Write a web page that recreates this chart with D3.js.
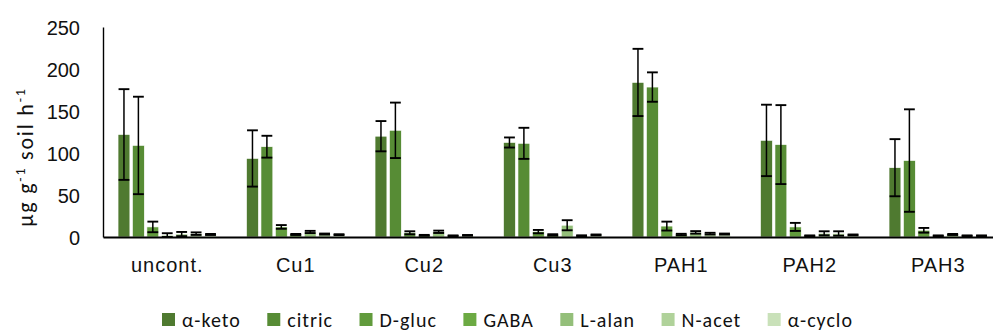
<!DOCTYPE html>
<html>
<head>
<meta charset="utf-8">
<script src="https://cdn.jsdelivr.net/npm/d3@7"></script>
<style>
  body { margin: 0; background: #fff; }
  svg { display: block; font-family: Calibri, Carlito, Lato, sans-serif; }
  .tick-label { fill: #111; font-size: 20px; }
  .cat-label { fill: #111; font-size: 20px; letter-spacing: 1px; }
  .legend-label { fill: #111; font-size: 20px; letter-spacing: 1px; }
  .y-title { fill: #111; font-size: 22px; letter-spacing: 1.8px; }
</style>
</head>
<body>
<div id="chart"></div>
<script>
var svgWidth = 993;
var svgHeight = 332;

// plot box (right side runs off the frame like in the reference)
var margin = { top: 27, left: 103, bottom: 95 };
var plotRight = 1002.5;
var baseY = svgHeight - margin.bottom;

var categories = ["uncont.", "Cu1", "Cu2", "Cu3", "PAH1", "PAH2", "PAH3"];
var series = ["α-keto", "citric", "D-gluc", "GABA", "L-alan", "N-acet", "α-cyclo"];
var colors = ["#4f7a30", "#578c35", "#619b3c", "#6caa43", "#94bf7a", "#b0d29a", "#c9e1b9"];
var yTicks = [0, 50, 100, 150, 200, 250];

// means, one array per category, in series order
var uncontVals = [122, 109, 12, 2, 3.5, 4, 3];
var cu1Vals    = [93.5, 107.5, 12, 3, 6, 3.5, 2.8];
var cu2Vals    = [120, 127, 5, 2, 6.2, 1.5, 2];
var cu3Vals    = [112.5, 111.5, 6.4, 2.5, 14, 1.5, 2.5];
var pah1Vals   = [184, 178.5, 13, 3, 5.5, 4, 3.5];
var pah2Vals   = [115, 110, 12, 1.5, 4.4, 4.2, 2.5];
var pah3Vals   = [82.5, 91, 8, 1.5, 3, 1.5, 1.5];

// error (+/-)
var uncontErr = [54, 58, 6.3, 2.5, 2.5, 1.5, 0.6];
var cu1Err    = [33.5, 13, 2.2, 0.6, 1.3, 0.6, 0.5];
var cu2Err    = [18, 33, 1.8, 0.5, 1.4, 0.4, 0.4];
var cu3Err    = [6, 18.5, 2, 0.8, 6, 0.5, 0.5];
var pah1Err   = [40, 17.5, 5.3, 0.8, 1.5, 1, 0.6];
var pah2Err   = [42.5, 47, 4.8, 0.4, 2.4, 2.6, 0.5];
var pah3Err   = [34, 61, 2.8, 0.4, 0.6, 0.4, 0.4];

var allVals = [uncontVals, cu1Vals, cu2Vals, cu3Vals, pah1Vals, pah2Vals, pah3Vals];
var allErr = [uncontErr, cu1Err, cu2Err, cu3Err, pah1Err, pah2Err, pah3Err];

var data = [];
categories.forEach((c, i) => {
  series.forEach((s, j) => {
    data.push({ cat: c, ser: s, idx: j, value: allVals[i][j], err: allErr[i][j] });
  });
});

var svg = d3.select("#chart")
  .append("svg")
  .attr("width", svgWidth)
  .attr("height", svgHeight);

var x0 = d3.scaleBand()
  .domain(categories)
  .range([margin.left, plotRight])
  .paddingInner(0.214)
  .paddingOuter(0.107);

var x1 = d3.scaleBand()
  .domain(series)
  .range([0, x0.bandwidth()])
  .paddingInner(0.18)
  .paddingOuter(0.09);

var y = d3.scaleLinear()
  .domain([0, 250])
  .range([baseY, margin.top]);

var color = d3.scaleOrdinal().domain(series).range(colors);

// bars
svg.append("g")
  .selectAll("rect")
  .data(data)
  .enter()
  .append("rect")
  .attr("x", d => x0(d.cat) + x1(d.ser))
  .attr("y", d => y(d.value))
  .attr("width", x1.bandwidth())
  .attr("height", d => baseY - y(d.value))
  .attr("fill", d => color(d.ser))
  .attr("stroke", "#fff")
  .attr("stroke-width", 0.6);

// error bars
var errG = svg.append("g")
  .attr("stroke", "#000")
  .attr("stroke-width", 1.9);

data.forEach(d => {
  var cx = x0(d.cat) + x1(d.ser) + x1.bandwidth() / 2;
  var hw = x1.bandwidth() / 2 - 0.5;
  var lo = Math.max(0, d.value - d.err);
  var hi = d.value + d.err;
  errG.append("line")
    .attr("x1", cx).attr("x2", cx)
    .attr("y1", y(hi)).attr("y2", y(lo))
    .attr("stroke-width", 1.5);
  errG.append("line")
    .attr("x1", cx - hw).attr("x2", cx + hw)
    .attr("y1", y(hi)).attr("y2", y(hi));
  errG.append("line")
    .attr("x1", cx - hw).attr("x2", cx + hw)
    .attr("y1", y(lo)).attr("y2", y(lo));
});

// y axis
var yAxis = d3.axisLeft(y).tickValues(yTicks).tickSize(0).tickPadding(23);
var yG = svg.append("g")
  .attr("transform", `translate(${margin.left}, 0)`)
  .call(yAxis);
yG.select(".domain").attr("stroke", "#000").attr("stroke-width", 1.4);
yG.selectAll("text")
  .attr("class", "tick-label")
  .attr("font-family", null)
  .attr("font-size", null)
  .attr("dy", "0.35em");

// x axis
var xAxis = d3.axisBottom(x0).tickSize(0).tickPadding(21);
var xG = svg.append("g")
  .attr("transform", `translate(0, ${baseY})`)
  .call(xAxis);
xG.select(".domain").attr("stroke", "#000").attr("stroke-width", 1.8);
xG.selectAll("text")
  .attr("class", "cat-label")
  .attr("font-family", null)
  .attr("font-size", null);

// y title
var yTitle = svg.append("text")
  .attr("class", "y-title")
  .attr("transform", `translate(33, ${(margin.top + baseY) / 2 + 25}) rotate(-90)`)
  .attr("text-anchor", "middle");
yTitle.append("tspan").text("μg g");
yTitle.append("tspan").attr("font-size", "14px").attr("dy", "-8").text("-1");
yTitle.append("tspan").attr("dy", "8").text(" soil h");
yTitle.append("tspan").attr("font-size", "14px").attr("dy", "-8").text("-1");

// legend: spread between the same left/right ends as the reference
var legendLeft = 162, legendRight = 853;
var legend = svg.append("g");
var items = [];
var textSum = 0;
series.forEach((s, i) => {
  var item = legend.append("g");
  item.append("rect")
    .attr("x", 0).attr("y", 313)
    .attr("width", 13).attr("height", 13)
    .attr("fill", color(s));
  var t = item.append("text")
    .attr("class", "legend-label")
    .attr("x", 20).attr("y", 327)
    .text(s);
  var w = 20 + t.node().getComputedTextLength();
  textSum += w;
  items.push({ g: item, w: w });
});
var gap = (legendRight - legendLeft - textSum) / (series.length - 1);
var lx = legendLeft;
items.forEach(it => {
  it.g.attr("transform", `translate(${lx}, 0)`);
  lx += it.w + gap;
});
</script>
</body>
</html>
